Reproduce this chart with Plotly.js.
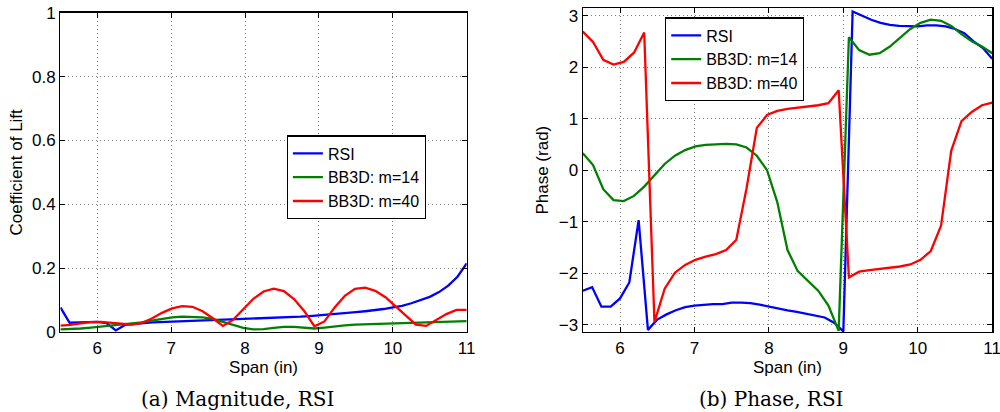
<!DOCTYPE html>
<html>
<head>
<meta charset="utf-8">
<script src="https://cdn.plot.ly/plotly-3.0.1.min.js"></script>
<style>html,body{margin:0;padding:0;background:#fff;}#chart{width:1000px;height:412px;}</style>
</head>
<body>
<div id="chart"></div>
<script>
// ---- data ----
const spanRSI = [5.5,5.625,5.75,5.875,6,6.125,6.25,6.375,6.5,6.625,6.75,6.875,7,7.125,7.25,7.375,7.5,7.625,7.75,7.875,8,8.125,8.25,8.375,8.5,8.625,8.75,8.875,9,9.125,9.25,9.375,9.5,9.625,9.75,9.875,10,10.125,10.25,10.375,10.5,10.625,10.75,10.875,11];
const spanBB = [5.5,5.6375,5.775,5.9125,6.05,6.1875,6.325,6.4625,6.6,6.7375,6.875,7.0125,7.15,7.2875,7.425,7.5625,7.7,7.8375,7.975,8.1125,8.25,8.3875,8.525,8.6625,8.8,8.9375,9.075,9.2125,9.35,9.4875,9.625,9.7625,9.9,10.0375,10.175,10.3125,10.45,10.5875,10.725,10.8625,11];

const magRSI = [0.077,0.029,0.030,0.031,0.032,0.028,0.005,0.022,0.026,0.028,0.030,0.031,0.032,0.033,0.034,0.035,0.036,0.037,0.038,0.039,0.040,0.041,0.042,0.043,0.045,0.046,0.048,0.050,0.052,0.054,0.056,0.059,0.062,0.065,0.068,0.072,0.077,0.082,0.090,0.099,0.110,0.125,0.145,0.173,0.215];
const magM14 = [0.008,0.009,0.011,0.014,0.017,0.020,0.022,0.025,0.030,0.036,0.042,0.046,0.048,0.048,0.046,0.041,0.032,0.022,0.013,0.008,0.009,0.013,0.016,0.016,0.014,0.011,0.014,0.018,0.021,0.023,0.024,0.025,0.026,0.027,0.028,0.029,0.029,0.030,0.031,0.032,0.034];
const magM40 = [0.020,0.022,0.027,0.031,0.032,0.030,0.026,0.023,0.028,0.042,0.060,0.074,0.081,0.079,0.065,0.043,0.019,0.038,0.072,0.104,0.127,0.136,0.128,0.103,0.066,0.018,0.033,0.077,0.113,0.135,0.139,0.129,0.109,0.080,0.049,0.023,0.019,0.038,0.056,0.069,0.069];

const phRSI = [-2.34,-2.27,-2.65,-2.65,-2.49,-2.18,-0.97,-3.10,-2.90,-2.80,-2.72,-2.66,-2.63,-2.61,-2.60,-2.60,-2.57,-2.57,-2.58,-2.61,-2.65,-2.69,-2.72,-2.75,-2.79,-2.82,-2.86,-2.96,-3.13,3.08,3.00,2.92,2.86,2.82,2.80,2.79,2.79,2.81,2.81,2.79,2.74,2.66,2.50,2.37,2.16];
const phM14 = [0.33,0.10,-0.37,-0.58,-0.60,-0.50,-0.32,-0.09,0.12,0.28,0.39,0.46,0.49,0.50,0.51,0.50,0.44,0.28,0.00,-0.62,-1.55,-1.96,-2.15,-2.34,-2.63,-3.12,2.58,2.33,2.24,2.27,2.40,2.57,2.74,2.86,2.92,2.90,2.80,2.64,2.50,2.40,2.27];
const phM40 = [2.69,2.49,2.14,2.05,2.10,2.28,2.67,-2.95,-2.30,-1.99,-1.84,-1.74,-1.68,-1.63,-1.55,-1.35,-0.35,0.82,1.07,1.15,1.19,1.21,1.23,1.26,1.30,1.55,-2.08,-1.97,-1.94,-1.92,-1.90,-1.87,-1.83,-1.74,-1.57,-1.08,0.38,0.95,1.13,1.26,1.31];

const seriesNames = ['RSI','BB3D: m=14','BB3D: m=40'];
const spanTicks = [6,7,8,9,10,11];
const magTicks = [0,0.2,0.4,0.6,0.8,1];
const magTickText = ['0','0.2','0.4','0.6','0.8','1'];
const phaseTicks = [-3,-2,-1,0,1,2,3];
const captions = ['(a) Magnitude, RSI','(b) Phase, RSI'];

// ---- styles ----
const colors = ['#0000ff','#008000','#ff0000'];
const FONT = 'Liberation Sans';
const FS = 17;
const SERIF = 'DejaVu Serif';

function line(x, y, i, xa, ya, lg) {
  return {x: x, y: y, type: 'scatter', mode: 'lines', name: seriesNames[i],
    line: {color: colors[i], width: 2.3}, xaxis: xa, yaxis: ya, legend: lg};
}

const traces = [
  line(spanRSI, magRSI, 0, 'x', 'y', 'legend'),
  line(spanBB, magM14, 1, 'x', 'y', 'legend'),
  line(spanBB, magM40, 2, 'x', 'y', 'legend'),
  line(spanRSI, phRSI, 0, 'x2', 'y2', 'legend2'),
  line(spanBB, phM14, 1, 'x2', 'y2', 'legend2'),
  line(spanBB, phM40, 2, 'x2', 'y2', 'legend2')
];

const axBase = {
  showline: true, linecolor: '#000', linewidth: 1.3, mirror: 'ticks',
  ticks: 'inside', ticklen: 5, tickcolor: '#000', tickwidth: 1,
  showgrid: true, gridcolor: '#7a7a7a', griddash: '1px,3px', gridwidth: 1,
  zeroline: false, tickfont: {family: FONT, size: FS, color: '#000'},
  ticklabeloverflow: 'allow', fixedrange: true
};

const W = 1000, H = 412;
const legendBase = {
  xanchor: 'left', yanchor: 'top',
  bgcolor: '#fff', bordercolor: '#000', borderwidth: 1.2,
  font: {family: FONT, size: 16, color: '#000'}, tracegroupgap: 0, itemwidth: 30
};
const layout = {
  width: W, height: H,
  margin: {l: 0, r: 0, t: 0, b: 0},
  paper_bgcolor: '#fff', plot_bgcolor: '#fff',
  font: {family: FONT, size: FS, color: '#000'},
  xaxis: Object.assign({}, axBase, {
    domain: [60.4 / W, 466.7 / W], range: [5.5, 11], tickvals: spanTicks,
    anchor: 'y', title: {text: 'Span (in)', font: {family: FONT, size: FS}, standoff: 0}
  }),
  yaxis: Object.assign({}, axBase, {
    domain: [1 - 332 / H, 1 - 12.7 / H], range: [0, 1], tickvals: magTicks, ticktext: magTickText,
    anchor: 'x', title: {text: 'Coefficient of Lift', font: {family: FONT, size: FS}, standoff: 5}
  }),
  xaxis2: Object.assign({}, axBase, {
    domain: [582.8 / W, 992.2 / W], range: [5.5, 11], tickvals: spanTicks,
    anchor: 'y2', title: {text: 'Span (in)', font: {family: FONT, size: FS}, standoff: 0}
  }),
  yaxis2: Object.assign({}, axBase, {
    domain: [1 - 332 / H, 1 - 8.3 / H], range: [-Math.PI, Math.PI], tickvals: phaseTicks,
    anchor: 'x2', title: {text: 'Phase (rad)', font: {family: FONT, size: FS}, standoff: 5}
  }),
  legend: Object.assign({}, legendBase, {x: 286.7 / W, y: 1 - 135.3 / H}),
  legend2: Object.assign({}, legendBase, {x: 665 / W, y: 1 - 17.3 / H}),
  annotations: [
    {text: captions[0], xref: 'paper', yref: 'paper', x: 237.5 / W, y: 1 - 398.5 / H,
     xanchor: 'center', yanchor: 'middle', showarrow: false,
     font: {family: SERIF, size: 20, color: '#000'}},
    {text: captions[1], xref: 'paper', yref: 'paper', x: 771 / W, y: 1 - 398.5 / H,
     xanchor: 'center', yanchor: 'middle', showarrow: false,
     font: {family: SERIF, size: 20, color: '#000'}}
  ],
  showlegend: true
};

Plotly.newPlot('chart', traces, layout, {displayModeBar: false, staticPlot: true});
</script>
</body>
</html>
